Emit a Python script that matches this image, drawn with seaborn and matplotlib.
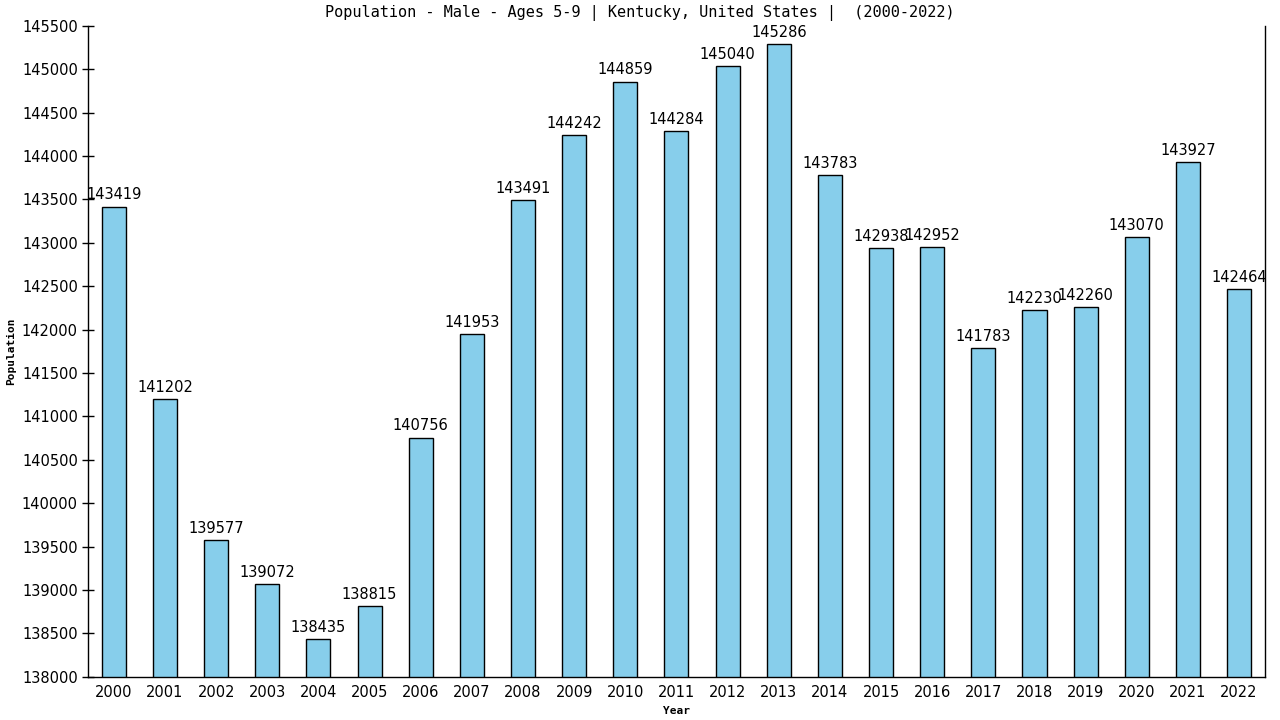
import matplotlib
matplotlib.use('Agg')
import pandas as pd
import seaborn as sns
import matplotlib.pyplot as plt

years = [str(y) for y in range(2000, 2023)]
population = [143419, 141202, 139577, 139072, 138435, 138815, 140756, 141953,
              143491, 144242, 144859, 144284, 145040, 145286, 143783, 142938,
              142952, 141783, 142230, 142260, 143070, 143927, 142464]

df = pd.DataFrame({'Year': years, 'Population': population})

sns.set_style('white')
plt.rcParams['font.family'] = ['DejaVu Sans']
plt.rcParams['text.color'] = 'black'
plt.rcParams['axes.labelcolor'] = 'black'
plt.rcParams['xtick.color'] = 'black'
plt.rcParams['ytick.color'] = 'black'

fig = plt.figure(figsize=(12.8, 7.2), dpi=100)
ax = fig.add_axes([0.069, 0.06, 0.919, 0.904])

sns.barplot(data=df, x='Year', y='Population', color='skyblue', saturation=1,
            width=0.47, edgecolor='black', linewidth=1, ax=ax)

for c in ax.containers:
    ax.bar_label(c, fmt='%d', padding=3, fontsize=10.5, color='black')

ax.set_ylim(138000, 145500)
ax.set_yticks(range(138000, 145501, 500))
ax.set_xlim(-0.5, 22.5)
ax.tick_params(axis='y', direction='inout', length=8, width=1, labelsize=10.5, left=True)
ax.tick_params(axis='x', length=0, labelsize=10.5, pad=6)

for side in ['left', 'bottom', 'right']:
    ax.spines[side].set_visible(True)
    ax.spines[side].set_color('black')
    ax.spines[side].set_linewidth(1)
ax.spines['top'].set_visible(False)

ax.set_xlabel('Year', family='DejaVu Sans Mono', fontsize=8, fontweight='bold', labelpad=4)
ax.set_ylabel('Population', family='DejaVu Sans Mono', fontsize=8, fontweight='bold', labelpad=4)
fig.text(0.5, 0.982, 'Population - Male - Ages 5-9 | Kentucky, United States |  (2000-2022)',
         family='DejaVu Sans Mono', fontsize=11, ha='center', va='center', color='black')

fig.savefig('out.png', dpi=100)
